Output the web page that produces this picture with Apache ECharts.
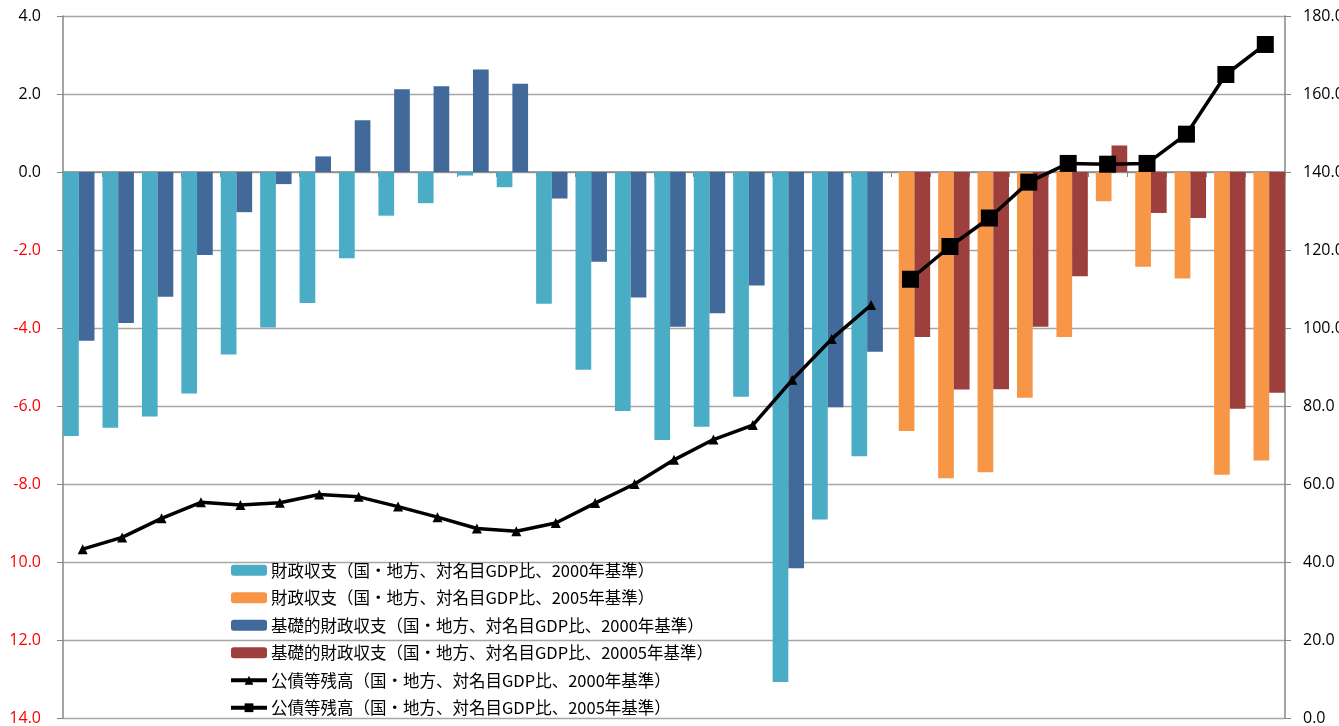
<!DOCTYPE html>
<html>
<head>
<meta charset="utf-8">
<script src="https://cdn.jsdelivr.net/npm/echarts@6/dist/echarts.min.js"></script>
<style>
  html, body { margin: 0; padding: 0; background: #ffffff; }
  #chart { width: 1339px; height: 726px; }
</style>
</head>
<body>
<div id="chart"></div>
<script>
// Fiscal years (not labelled on the axis)
const years = ['1980','1981','1982','1983','1984','1985','1986','1987','1988','1989',
               '1990','1991','1992','1993','1994','1995','1996','1997','1998','1999',
               '2000','2001','2002','2003','2004','2005','2006','2007','2008','2009','2010'];

// Fiscal balance, % of nominal GDP (2000 base)
const fiscal2000 = [-6.77,-6.56,-6.27,-5.68,-4.68,-3.99,-3.36,-2.21,-1.12,-0.80,
                    -0.09,-0.39,-3.38,-5.07,-6.13,-6.87,-6.53,-5.76,-13.08,-8.91,
                    -7.29,null,null,null,null,null,null,null,null,null,null];
// Fiscal balance, % of nominal GDP (2005 base)
const fiscal2005 = [null,null,null,null,null,null,null,null,null,null,
                    null,null,null,null,null,null,null,null,null,null,
                    null,-6.64,-7.85,-7.70,-5.79,-4.23,-0.75,-2.43,-2.73,-7.76,-7.40];
// Primary balance, % of nominal GDP (2000 base)
const primary2000 = [-4.33,-3.87,-3.20,-2.13,-1.03,-0.31,0.40,1.33,2.12,2.20,
                     2.63,2.26,-0.68,-2.30,-3.22,-3.97,-3.62,-2.91,-10.16,-6.03,
                     -4.61,null,null,null,null,null,null,null,null,null,null];
// Primary balance, % of nominal GDP (2005 base)
const primary2005 = [null,null,null,null,null,null,null,null,null,null,
                     null,null,null,null,null,null,null,null,null,null,
                     null,-4.23,-5.58,-5.57,-3.97,-2.67,0.68,-1.05,-1.18,-6.07,-5.66];
// Outstanding public debt, % of nominal GDP (2000 base)
const debt2000 = [43.3,46.3,51.2,55.3,54.6,55.2,57.3,56.7,54.2,51.5,
                  48.6,47.9,50.0,55.1,60.0,66.2,71.4,75.1,86.7,97.2,
                  105.9,null,null,null,null,null,null,null,null,null,null];
// Outstanding public debt, % of nominal GDP (2005 base)
const debt2005 = [null,null,null,null,null,null,null,null,null,null,
                  null,null,null,null,null,null,null,null,null,null,
                  null,112.5,120.9,128.2,137.4,142.2,142.0,142.2,149.7,165.0,172.7];

const seriesNames = [
  '財政収支（国・地方、対名目GDP比、2000年基準）',
  '財政収支（国・地方、対名目GDP比、2005年基準）',
  '基礎的財政収支（国・地方、対名目GDP比、2000年基準）',
  '基礎的財政収支（国・地方、対名目GDP比、20005年基準）',
  '公債等残高（国・地方、対名目GDP比、2000年基準）',
  '公債等残高（国・地方、対名目GDP比、2005年基準）'
];

const axisGray = '#868686';
const gridGray = '#a6a6a6';
const numFont = '"Open Sans", "Liberation Sans", sans-serif';
const jpFont = '"Noto Sans CJK JP", sans-serif';
const barW = 15.7;

const chart = echarts.init(document.getElementById('chart'), null, { renderer: 'canvas' });

chart.setOption({
  animation: false,
  backgroundColor: '#ffffff',
  grid: { left: 63, right: 54, top: 16, bottom: 8, containLabel: false, outerBoundsMode: 'none' },
  legend: {
    orient: 'vertical',
    left: 229,
    top: 562,
    itemWidth: 36,
    itemHeight: 11,
    itemGap: 11,
    padding: 0,
    data: seriesNames,
    lineStyle: { width: 4 },
    textStyle: { fontFamily: jpFont, fontSize: 16.5, color: '#000000', lineHeight: 16, padding: [0, 0, 0, -1] }
  },
  xAxis: {
    type: 'category',
    data: years,
    boundaryGap: true,
    axisLine: { onZero: true, onZeroAxisIndex: 0, lineStyle: { color: axisGray, width: 1.5 } },
    axisTick: { show: true, length: 5, interval: 0, lineStyle: { color: axisGray, width: 1 } },
    axisLabel: { show: false },
    splitLine: { show: false }
  },
  yAxis: [
    {
      type: 'value',
      position: 'left',
      min: -14,
      max: 4,
      interval: 2,
      axisLine: { show: true, lineStyle: { color: axisGray, width: 1.5 } },
      axisTick: { show: true, length: 6, lineStyle: { color: axisGray, width: 1 } },
      splitLine: { show: true, lineStyle: { color: gridGray, width: 1.3 } },
      axisLabel: {
        margin: 22,
        fontFamily: numFont,
        fontSize: 16,
        formatter: v => (v <= -10 ? Math.abs(v) : v).toFixed(1),
        color: v => (Number(v) < 0 ? '#ff0000' : '#000000')
      }
    },
    {
      type: 'value',
      position: 'right',
      min: 0,
      max: 180,
      interval: 20,
      axisLine: { show: true, lineStyle: { color: axisGray, width: 1.5 } },
      axisTick: { show: true, length: 6, lineStyle: { color: axisGray, width: 1 } },
      splitLine: { show: false },
      axisLabel: {
        margin: 18,
        fontFamily: numFont,
        fontSize: 16,
        color: '#000000',
        formatter: v => v.toFixed(1)
      }
    }
  ],
  series: [
    { name: seriesNames[0], type: 'bar', data: fiscal2000, barWidth: barW, barGap: '-50%',
      itemStyle: { color: '#4bacc6' }, z: 2 },
    { name: seriesNames[1], type: 'bar', data: fiscal2005, barWidth: barW, barGap: '-50%',
      itemStyle: { color: '#f79646' }, z: 2 },
    { name: seriesNames[2], type: 'bar', data: primary2000, barWidth: barW, barGap: '-50%',
      itemStyle: { color: '#41699a' }, z: 2 },
    { name: seriesNames[3], type: 'bar', data: primary2005, barWidth: barW, barGap: '-50%',
      itemStyle: { color: '#9c3f3d' }, z: 2 },
    { name: seriesNames[4], type: 'line', yAxisIndex: 1, data: debt2000,
      symbol: 'triangle', symbolSize: 10, connectNulls: false,
      lineStyle: { color: '#000000', width: 3.5 }, itemStyle: { color: '#000000' }, z: 5 },
    { name: seriesNames[5], type: 'line', yAxisIndex: 1, data: debt2005,
      symbol: 'rect', symbolSize: 17, connectNulls: false,
      lineStyle: { color: '#000000', width: 3.5 }, itemStyle: { color: '#000000' }, z: 5 }
  ]
});
</script>
</body>
</html>
